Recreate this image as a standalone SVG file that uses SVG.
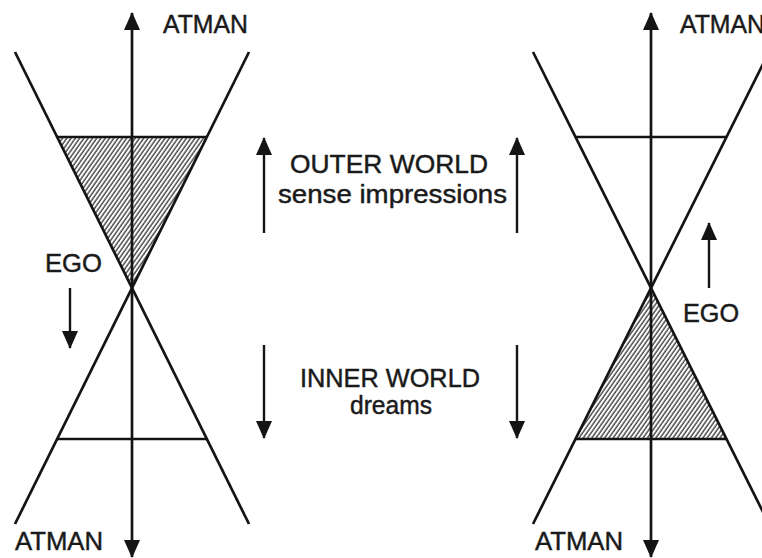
<svg xmlns="http://www.w3.org/2000/svg" width="762" height="558" viewBox="0 0 762 558">
<style>
.ln{stroke:#141414;stroke-width:2.7;fill:none}
.ax{stroke:#141414;stroke-width:2.7;fill:none}
.ar{stroke:#141414;stroke-width:2.4;fill:none}
text{font-family:"Liberation Sans",Arial,sans-serif;font-size:25.5px;fill:#1a1a1a;stroke:#1a1a1a;stroke-width:0.45}
.mid{text-anchor:middle}
</style>
<defs>
<marker id="ah" viewBox="0 0 18 16" refX="17" refY="8" markerWidth="18" markerHeight="16" markerUnits="userSpaceOnUse" orient="auto">
<path d="M0,0 L18,8 L0,16 Z" fill="#141414"/>
</marker>
<pattern id="hatch" patternUnits="userSpaceOnUse" width="3.5" height="10" patternTransform="rotate(35)">
<rect width="3.5" height="10" fill="#fff"/>
<line x1="1" y1="0" x2="1" y2="10" stroke="#222" stroke-width="1.2"/>
</pattern>
</defs>

<g id="left-figure">
<polygon points="58,137 206,137 132,288" fill="url(#hatch)"/>
<line class="ln" x1="15" y1="52" x2="249" y2="524"/>
<line class="ln" x1="249" y1="52" x2="15" y2="524"/>
<line class="ln" x1="57" y1="137" x2="207" y2="137"/>
<line class="ln" x1="57" y1="439" x2="207" y2="439"/>
</g>

<g id="right-figure">
<polygon points="651,288 576,439 726,439" fill="url(#hatch)"/>
<line class="ln" x1="533" y1="52" x2="769" y2="524"/>
<line class="ln" x1="769" y1="52" x2="533" y2="524"/>
<line class="ln" x1="575" y1="137" x2="727" y2="137"/>
<line class="ln" x1="575" y1="439" x2="727" y2="439"/>
</g>

<g id="connectors">
<line class="ax" x1="132" y1="288" x2="132" y2="13" marker-end="url(#ah)"/>
<line class="ax" x1="132" y1="288" x2="132" y2="557" marker-end="url(#ah)"/>
<line class="ax" x1="651" y1="288" x2="651" y2="13" marker-end="url(#ah)"/>
<line class="ax" x1="651" y1="288" x2="651" y2="557" marker-end="url(#ah)"/>
<line class="ar" x1="70" y1="288" x2="70" y2="348" marker-end="url(#ah)"/>
<line class="ar" x1="709" y1="288" x2="709" y2="223" marker-end="url(#ah)"/>
<line class="ar" x1="264" y1="233" x2="264" y2="138" marker-end="url(#ah)"/>
<line class="ar" x1="517" y1="233" x2="517" y2="138" marker-end="url(#ah)"/>
<line class="ar" x1="264" y1="345" x2="264" y2="438" marker-end="url(#ah)"/>
<line class="ar" x1="517" y1="345" x2="517" y2="438" marker-end="url(#ah)"/>
</g>

<g id="labels">
<text x="163" y="33" textLength="85" lengthAdjust="spacingAndGlyphs">ATMAN</text>
<text x="15" y="550" textLength="88" lengthAdjust="spacingAndGlyphs">ATMAN</text>
<text x="680" y="33" textLength="85" lengthAdjust="spacingAndGlyphs">ATMAN</text>
<text x="535" y="550" textLength="88" lengthAdjust="spacingAndGlyphs">ATMAN</text>
<text x="45" y="272" textLength="57" lengthAdjust="spacingAndGlyphs">EGO</text>
<text x="683" y="322" textLength="56" lengthAdjust="spacingAndGlyphs">EGO</text>
<text x="290" y="173" textLength="198" lengthAdjust="spacingAndGlyphs">OUTER WORLD</text>
<text x="278" y="203" textLength="229" lengthAdjust="spacingAndGlyphs">sense impressions</text>
<text x="300" y="387" textLength="180" lengthAdjust="spacingAndGlyphs">INNER WORLD</text>
<text x="350" y="414" textLength="82" lengthAdjust="spacingAndGlyphs">dreams</text>
</g>
</svg>
